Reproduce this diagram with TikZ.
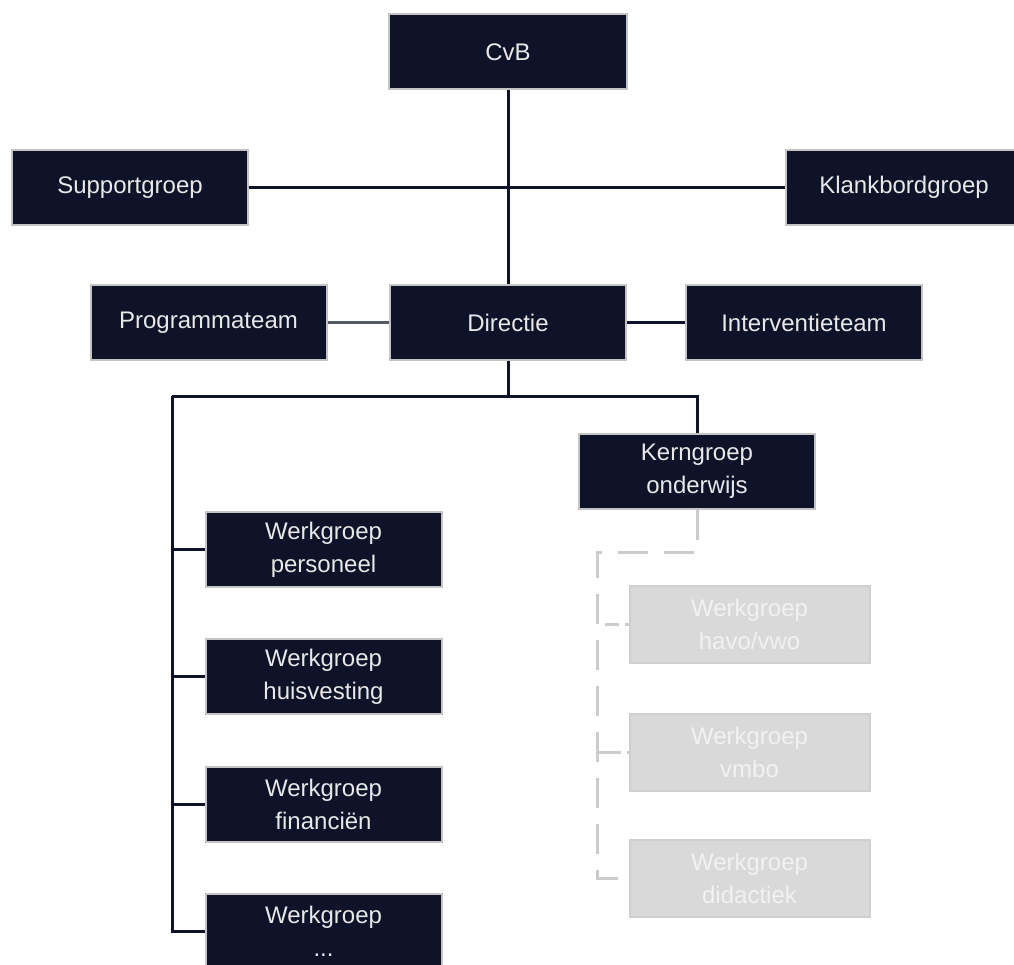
\documentclass[tikz,border=0pt]{standalone}
\usepackage{fontspec}
\setmainfont{Liberation Sans}
\definecolor{navy}{HTML}{0E1329}
\definecolor{bordergray}{HTML}{C4C4C4}
\definecolor{boxtext}{HTML}{E8E8E8}
\definecolor{ghostfill}{HTML}{D9D9D9}
\definecolor{ghostborder}{HTML}{CFCFCF}
\definecolor{ghosttext}{HTML}{F2F2F2}
\definecolor{dashgray}{HTML}{CCCCCC}
\definecolor{midline}{HTML}{555A66}
\begin{document}
\begin{tikzpicture}[x=1pt,y=-1pt,
  orgbox/.style={draw=bordergray, line width=2pt, fill=navy, text=boxtext,
    minimum width=236pt, minimum height=75pt, inner sep=0pt, align=center,
    font=\fontsize{24}{33}\selectfont},
  ghostbox/.style={orgbox, draw=ghostborder, fill=ghostfill, text=ghosttext},
  link/.style={draw=navy, line width=3pt},
  ghostlink/.style={draw=dashgray, line width=3pt, dash pattern=on 30pt off 16pt}
]
\clip (0,0) rectangle (1014,965);
\useasboundingbox (0,0) rectangle (1014,965);
\fill[white] (0,0) rectangle (1014,965);

\coordinate (hb) at (508,396);
\coordinate (tl) at (172,396);
\coordinate (tr) at (697,396);
\coordinate (kd) at (697,552);
\coordinate (gl) at (597,552);

\node[orgbox, minimum width=238pt] (cvb) at (508,52) {CvB};
\node[orgbox] (sup) at (130,187.5) {Supportgroep};
\node[orgbox] (kbg) at (904,187.5) {Klankbordgroep};
\node[orgbox] (prog) at (208.5,322.5) {Programmateam};
\node[orgbox] (dir) at (508,322.5) {Directie};
\node[orgbox] (int) at (804,322.5) {Interventieteam};
\node[orgbox] (kern) at (697,471) {Kerngroep\\onderwijs};
\node[orgbox] (w1) at (323.5,549.5) {Werkgroep\\personeel};
\node[orgbox] (w2) at (323.5,676.5) {Werkgroep\\huisvesting};
\node[orgbox] (w3) at (323.5,804.5) {Werkgroep\\financiën};
\node[orgbox] (w4) at (323.5,931.5) {Werkgroep\\...};
\node[ghostbox, minimum width=240pt, minimum height=77pt] (g1) at (749.5,624.5) {Werkgroep\\havo/vwo};
\node[ghostbox, minimum width=240pt, minimum height=77pt] (g2) at (749.5,752) {Werkgroep\\vmbo};
\node[ghostbox, minimum width=240pt, minimum height=77pt] (g3) at (749.5,878.5) {Werkgroep\\didactiek};

\draw[link] (cvb.south) -- (dir.north);
\draw[link] (sup.east) -- (kbg.west);
\draw[draw=midline, line width=3pt] (prog.east) -- (dir.west);
\draw[link] (dir.east) -- (int.west);
\draw[link] (dir.south) -- (hb);
\draw[link] (tl) -- (tr) -- (kern.north);
\draw[link] (tl) |- (w4.west);
\draw[link] (tl) |- (w1.west);
\draw[link] (tl) |- (w2.west);
\draw[link] (tl) |- (w3.west);

\draw[ghostlink] (kern.south) -- (kd) -- (gl) |- (g3.west);
\draw[ghostlink, dash pattern=on 14pt off 6pt] (gl |- g1.west) ++(8pt,0) -- (g1.west);
\draw[ghostlink, dash pattern=on 24pt off 6pt] (gl |- g2.west) -- (g2.west);
\end{tikzpicture}
\end{document}
